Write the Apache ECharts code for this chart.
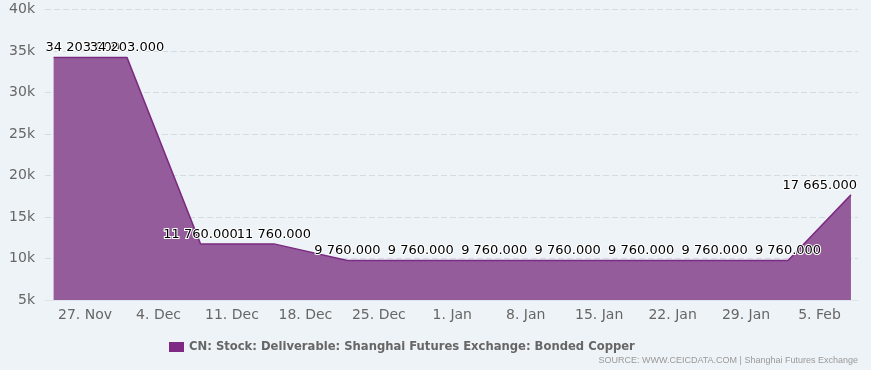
<!DOCTYPE html>
<html>
<head>
<meta charset="utf-8">
<script src="https://cdn.jsdelivr.net/npm/echarts@6/dist/echarts.min.js"></script>
<style>
html,body{margin:0;padding:0;background:#eef3f7;}
#chart{width:871px;height:370px;}
</style>
</head>
<body>
<div id="chart"></div>
<script>
var seriesName = 'CN: Stock: Deliverable: Shanghai Futures Exchange: Bonded Copper';
var dates = ['2023-11-24','2023-12-01','2023-12-08','2023-12-15','2023-12-22','2023-12-29',
             '2024-01-05','2024-01-12','2024-01-19','2024-01-26','2024-02-02','2024-02-08'];
var values = [34203, 34203, 11760, 11760, 9760, 9760, 9760, 9760, 9760, 9760, 9760, 17665];
var tickDates = ['2023-11-27','2023-12-04','2023-12-11','2023-12-18','2023-12-25','2024-01-01',
                 '2024-01-08','2024-01-15','2024-01-22','2024-01-29','2024-02-05'];
var yTicks = [5000, 10000, 15000, 20000, 25000, 30000, 35000, 40000];
var sourceText = 'SOURCE: WWW.CEICDATA.COM | Shanghai Futures Exchange';

var DAY = 86400000;
var MONTHS = ['Jan','Feb','Mar','Apr','May','Jun','Jul','Aug','Sep','Oct','Nov','Dec'];
function ts(s){ var p = s.split('-'); return Date.UTC(+p[0], +p[1]-1, +p[2]); }
function fmtNum(v){
  var s = v.toFixed(3); var parts = s.split('.');
  parts[0] = parts[0].replace(/\B(?=(\d{3})+(?!\d))/g, ' ');
  return parts[0] + '.' + parts[1];
}

var data = dates.map(function(d, i){
  var item = { value: [ts(d), values[i]] };
  if (i === 0) item.label = { position: [-8, -3], align: 'left', verticalAlign: 'bottom' };
  if (i === dates.length - 1) item.label = { position: [6, -3], align: 'right', verticalAlign: 'bottom' };
  return item;
});

var chart = echarts.init(document.getElementById('chart'), null, {renderer: 'canvas'});
chart.setOption({
  backgroundColor: '#eef3f7',
  animation: false,
  textStyle: { fontFamily: 'DejaVu Sans' },
  grid: { left: 45, right: 13, top: 9.5, bottom: 70 },
  xAxis: {
    type: 'value',
    min: ts(dates[0]) - 0.82 * DAY,
    max: ts(dates[dates.length - 1]) + 0.67 * DAY,
    axisLine: { show: true, lineStyle: { color: '#dfe4ea', width: 1 } },
    axisTick: { show: false },
    splitLine: { show: false },
    axisLabel: {
      customValues: tickDates.map(ts),
      formatter: function(v){ var d = new Date(v); return d.getUTCDate() + '. ' + MONTHS[d.getUTCMonth()]; },
      color: '#666666', fontSize: 14, fontFamily: 'DejaVu Sans', margin: 8,
      hideOverlap: false
    }
  },
  yAxis: {
    type: 'value',
    min: yTicks[0], max: yTicks[yTicks.length - 1], interval: 5000,
    axisLine: { show: false },
    axisTick: { show: false },
    splitLine: { show: true, lineStyle: { color: '#d5dbe3', type: [6, 3], width: 1 } },
    axisLabel: {
      formatter: function(v){ return (v / 1000) + 'k'; },
      color: '#666666', fontSize: 14, fontFamily: 'DejaVu Sans', margin: 10
    }
  },
  legend: {
    top: 341, left: 169,
    icon: 'rect', itemWidth: 15, itemHeight: 10, itemGap: 10, padding: 0,
    textStyle: { color: '#666666', fontSize: 11.6, fontWeight: 'bold', fontFamily: 'DejaVu Sans' },
    data: [seriesName]
  },
  graphic: [{
    type: 'text', right: 13, top: 356,
    style: { text: sourceText, fill: '#999999', font: '9px "Liberation Sans", Arial, sans-serif' }
  }],
  series: [{
    name: seriesName,
    type: 'line',
    data: data,
    color: '#7e2a84',
    lineStyle: { color: '#7b2b82', width: 1.5 },
    areaStyle: { color: '#955c9b', opacity: 1 },
    showSymbol: true, symbol: 'circle', symbolSize: 0,
    label: {
      show: true, position: 'top', distance: 3,
      formatter: function(p){ return fmtNum(p.value[1]); },
      color: '#000000', fontSize: 13, fontFamily: 'DejaVu Sans',
      textBorderColor: '#ffffff', textBorderWidth: 2
    },
    labelLayout: { hideOverlap: false },
    emphasis: { disabled: true }
  }]
});
</script>
</body>
</html>
